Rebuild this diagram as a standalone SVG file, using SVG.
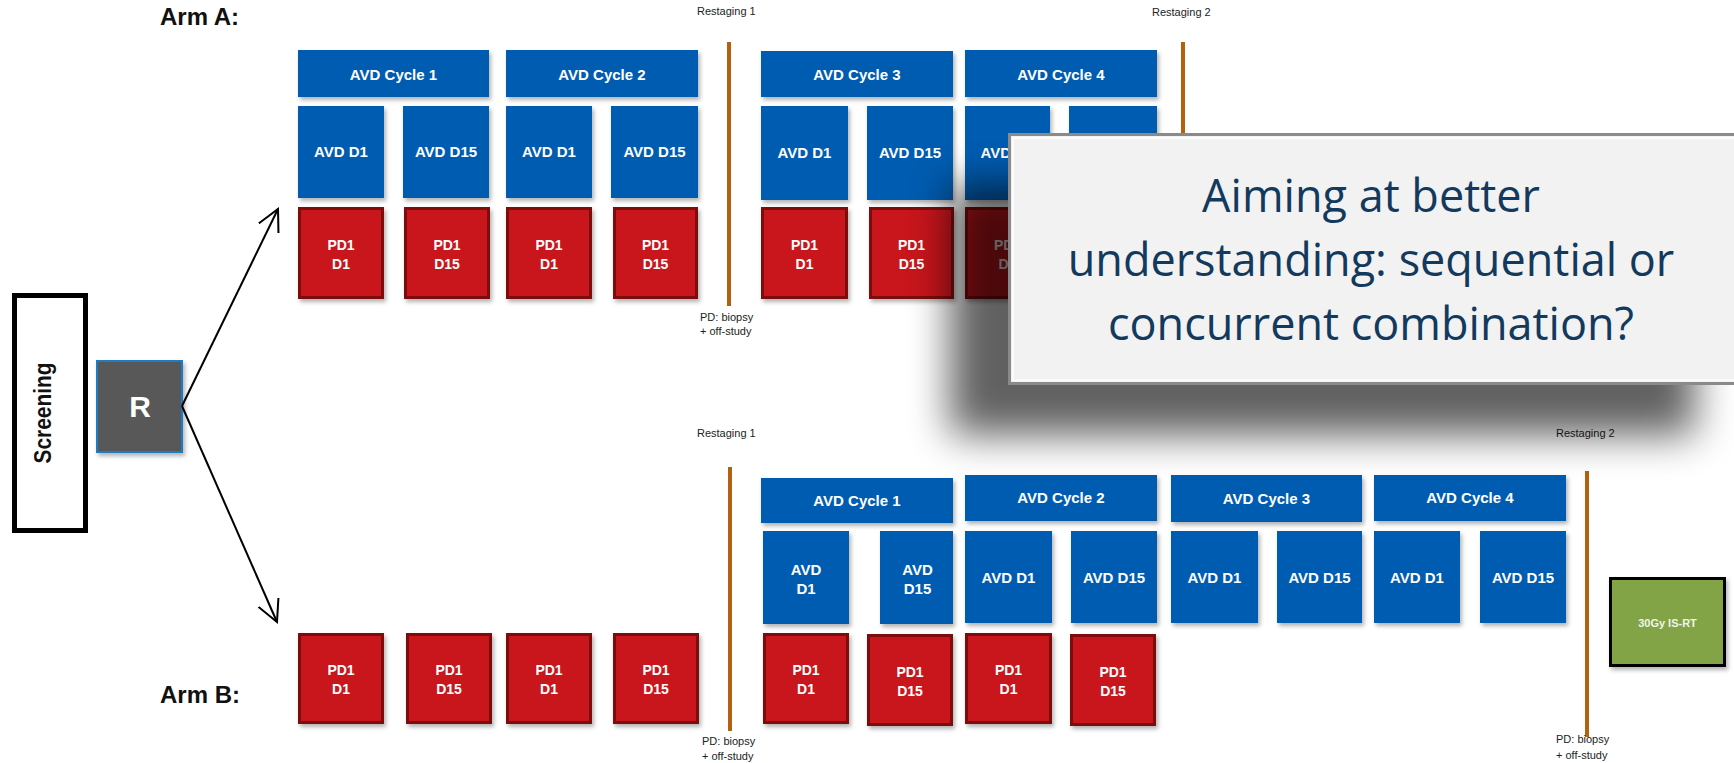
<svg xmlns="http://www.w3.org/2000/svg" width="1734" height="763" viewBox="0 0 1734 763">
<defs>
<style>
.blue{fill:#065cb0;filter:url(#ds)}
.red{fill:#c8181e;stroke:#7d0a0a;stroke-width:3;filter:url(#ds)}
.wt{font-family:"Liberation Sans",Arial,sans-serif;font-weight:bold;fill:#ffffff;text-anchor:middle}
.b15{font-size:15px}
.b14{font-size:14px}
.sm{font-family:"Liberation Sans",Arial,sans-serif;font-size:11px;fill:#222222}
.arm{font-family:"Liberation Sans",Arial,sans-serif;font-size:24px;font-weight:bold;fill:#111111}
.org{stroke:#b5600f;stroke-width:4}
.conn{stroke:#000;stroke-width:2;fill:none}
.call{font-family:"Open Sans","Noto Sans",sans-serif;font-size:45px;fill:#123a5e;text-anchor:middle}
</style>
<filter id="ds" x="-20%" y="-20%" width="140%" height="140%">
<feDropShadow dx="2" dy="3" stdDeviation="2" flood-color="#000" flood-opacity="0.3"/>
</filter>
<filter id="big" x="-20%" y="-40%" width="140%" height="180%">
<feGaussianBlur stdDeviation="20"/>
</filter>
<marker id="arr" viewBox="0 0 24 24" refX="21.5" refY="12" markerWidth="24" markerHeight="24" markerUnits="userSpaceOnUse" orient="auto">
<path d="M0,1 L21.5,12 L0,23" fill="none" stroke="#000" stroke-width="2"/>
</marker>
</defs>
<rect width="1734" height="763" fill="#ffffff"/>

<text class="arm" x="160" y="25">Arm A:</text>
<text class="arm" x="160" y="703">Arm B:</text>

<g id="screening">
<rect x="14.5" y="295.5" width="71" height="235" fill="#ffffff" stroke="#000" stroke-width="5"/>
<text transform="translate(51,413) rotate(-90)" text-anchor="middle" font-family="Liberation Sans,Arial,sans-serif" font-weight="bold" font-size="23" textLength="101" lengthAdjust="spacingAndGlyphs" fill="#111">Screening</text>
</g>
<g id="R">
<rect x="97" y="361" width="85" height="91" fill="#595959" stroke="#1a7dc4" stroke-width="2" filter="url(#ds)"/>
<text class="wt" x="140" y="417" font-size="30">R</text>
</g>

<g id="connectors">
<line class="conn" x1="182" y1="406" x2="278" y2="209" marker-end="url(#arr)"/>
<line class="conn" x1="182" y1="406" x2="277" y2="622" marker-end="url(#arr)"/>
</g>

<!-- Arm A -->
<g id="A-cycle1"><rect class="blue" x="298" y="50" width="191" height="47"/><text class="wt b15" x="393.5" y="80">AVD Cycle 1</text></g>
<g id="A-cycle2"><rect class="blue" x="506" y="50" width="192" height="47"/><text class="wt b15" x="602" y="80">AVD Cycle 2</text></g>
<g id="A-cycle3"><rect class="blue" x="761" y="51" width="192" height="46"/><text class="wt b15" x="857" y="80">AVD Cycle 3</text></g>
<g id="A-cycle4"><rect class="blue" x="965" y="50" width="192" height="47"/><text class="wt b15" x="1061" y="80">AVD Cycle 4</text></g>

<g id="A-avd1"><rect class="blue" x="298" y="106" width="86" height="92"/><text class="wt b15" x="341" y="157">AVD D1</text></g>
<g id="A-avd2"><rect class="blue" x="403" y="106" width="86" height="92"/><text class="wt b15" x="446" y="157">AVD D15</text></g>
<g id="A-avd3"><rect class="blue" x="506" y="106" width="86" height="92"/><text class="wt b15" x="549" y="157">AVD D1</text></g>
<g id="A-avd4"><rect class="blue" x="611" y="106" width="87" height="92"/><text class="wt b15" x="654.5" y="157">AVD D15</text></g>
<g id="A-avd5"><rect class="blue" x="761" y="106" width="87" height="94"/><text class="wt b15" x="804.5" y="158">AVD D1</text></g>
<g id="A-avd6"><rect class="blue" x="867" y="106" width="86" height="94"/><text class="wt b15" x="910" y="158">AVD D15</text></g>
<g id="A-avd7"><rect class="blue" x="965" y="106" width="85" height="94"/><text class="wt b15" x="1007.5" y="158">AVD D1</text></g>
<g id="A-avd8"><rect class="blue" x="1069" y="106" width="88" height="94"/><text class="wt b15" x="1113" y="158">AVD D15</text></g>

<g id="A-pd1"><rect class="red" x="299.5" y="208.5" width="83" height="89"/><text class="wt b14" x="341" y="250">PD1</text><text class="wt b14" x="341" y="269">D1</text></g>
<g id="A-pd2"><rect class="red" x="405.5" y="208.5" width="83" height="89"/><text class="wt b14" x="447" y="250">PD1</text><text class="wt b14" x="447" y="269">D15</text></g>
<g id="A-pd3"><rect class="red" x="507.5" y="208.5" width="83" height="89"/><text class="wt b14" x="549" y="250">PD1</text><text class="wt b14" x="549" y="269">D1</text></g>
<g id="A-pd4"><rect class="red" x="614.5" y="208.5" width="82" height="89"/><text class="wt b14" x="655.5" y="250">PD1</text><text class="wt b14" x="655.5" y="269">D15</text></g>
<g id="A-pd5"><rect class="red" x="762.5" y="208.5" width="84" height="89"/><text class="wt b14" x="804.5" y="250">PD1</text><text class="wt b14" x="804.5" y="269">D1</text></g>
<g id="A-pd6"><rect class="red" x="870.5" y="208.5" width="82" height="89"/><text class="wt b14" x="911.5" y="250">PD1</text><text class="wt b14" x="911.5" y="269">D15</text></g>
<g id="A-pd7"><rect class="red" x="966.5" y="208.5" width="82" height="89"/><text class="wt b14" x="1007.5" y="250">PD1</text><text class="wt b14" x="1007.5" y="269">D1</text></g>

<g id="A-restaging1">
<line class="org" x1="729" y1="42" x2="729" y2="306"/>
<text class="sm" x="697" y="15">Restaging  1</text>
<text class="sm" x="700" y="321">PD: biopsy</text>
<text class="sm" x="700" y="335">+ off-study</text>
</g>
<g id="A-restaging2">
<line class="org" x1="1183" y1="42" x2="1183" y2="300"/>
<text class="sm" x="1152" y="16">Restaging  2</text>
</g>

<!-- Arm B -->
<g id="B-pd1"><rect class="red" x="299.5" y="634.5" width="83" height="88"/><text class="wt b14" x="341" y="675">PD1</text><text class="wt b14" x="341" y="694">D1</text></g>
<g id="B-pd2"><rect class="red" x="407.5" y="634.5" width="83" height="88"/><text class="wt b14" x="449" y="675">PD1</text><text class="wt b14" x="449" y="694">D15</text></g>
<g id="B-pd3"><rect class="red" x="507.5" y="634.5" width="83" height="88"/><text class="wt b14" x="549" y="675">PD1</text><text class="wt b14" x="549" y="694">D1</text></g>
<g id="B-pd4"><rect class="red" x="614.5" y="634.5" width="83" height="88"/><text class="wt b14" x="656" y="675">PD1</text><text class="wt b14" x="656" y="694">D15</text></g>

<g id="B-restaging1">
<line class="org" x1="730" y1="467" x2="730" y2="731"/>
<text class="sm" x="697" y="437">Restaging  1</text>
<text class="sm" x="702" y="745">PD: biopsy</text>
<text class="sm" x="702" y="760">+ off-study</text>
</g>

<g id="B-cycle1"><rect class="blue" x="761" y="478" width="192" height="45"/><text class="wt b15" x="857" y="506">AVD Cycle 1</text></g>
<g id="B-cycle2"><rect class="blue" x="965" y="475" width="192" height="46"/><text class="wt b15" x="1061" y="503">AVD Cycle 2</text></g>
<g id="B-cycle3"><rect class="blue" x="1171" y="475" width="191" height="47"/><text class="wt b15" x="1266.5" y="504">AVD Cycle 3</text></g>
<g id="B-cycle4"><rect class="blue" x="1374" y="475" width="192" height="46"/><text class="wt b15" x="1470" y="503">AVD Cycle 4</text></g>

<g id="B-avd1"><rect class="blue" x="763" y="531" width="86" height="93"/><text class="wt b15" x="806" y="575">AVD</text><text class="wt b15" x="806" y="594">D1</text></g>
<g id="B-avd2"><rect class="blue" x="880" y="531" width="73" height="93"/><text class="wt b15" x="917.5" y="575">AVD</text><text class="wt b15" x="917.5" y="594">D15</text></g>
<g id="B-avd3"><rect class="blue" x="965" y="531" width="87" height="92"/><text class="wt b15" x="1008.5" y="583">AVD D1</text></g>
<g id="B-avd4"><rect class="blue" x="1071" y="531" width="86" height="92"/><text class="wt b15" x="1114" y="583">AVD D15</text></g>
<g id="B-avd5"><rect class="blue" x="1171" y="531" width="87" height="92"/><text class="wt b15" x="1214.5" y="583">AVD D1</text></g>
<g id="B-avd6"><rect class="blue" x="1277" y="531" width="85" height="92"/><text class="wt b15" x="1319.5" y="583">AVD D15</text></g>
<g id="B-avd7"><rect class="blue" x="1374" y="531" width="86" height="92"/><text class="wt b15" x="1417" y="583">AVD D1</text></g>
<g id="B-avd8"><rect class="blue" x="1480" y="531" width="86" height="92"/><text class="wt b15" x="1523" y="583">AVD D15</text></g>

<g id="B-pd5"><rect class="red" x="764.5" y="634.5" width="83" height="88"/><text class="wt b14" x="806" y="675">PD1</text><text class="wt b14" x="806" y="694">D1</text></g>
<g id="B-pd6"><rect class="red" x="868.5" y="635.5" width="83" height="89"/><text class="wt b14" x="910" y="677">PD1</text><text class="wt b14" x="910" y="696">D15</text></g>
<g id="B-pd7"><rect class="red" x="966.5" y="634.5" width="84" height="88"/><text class="wt b14" x="1008.5" y="675">PD1</text><text class="wt b14" x="1008.5" y="694">D1</text></g>
<g id="B-pd8"><rect class="red" x="1071.5" y="635.5" width="83" height="89"/><text class="wt b14" x="1113" y="677">PD1</text><text class="wt b14" x="1113" y="696">D15</text></g>

<g id="B-restaging2">
<line class="org" x1="1587" y1="471" x2="1587" y2="737"/>
<text class="sm" x="1556" y="437">Restaging  2</text>
<text class="sm" x="1556" y="743">PD: biopsy</text>
<text class="sm" x="1556" y="759">+ off-study</text>
</g>

<g id="B-rt">
<rect x="1610.5" y="578.5" width="114" height="87" fill="#82a446" stroke="#000" stroke-width="3" filter="url(#ds)"/>
<text x="1667.5" y="627" font-family="Liberation Sans,Arial,sans-serif" font-size="11" font-weight="bold" fill="#f0f4e8" text-anchor="middle">30Gy  IS-RT</text>
</g>

<!-- callout -->
<g id="callout">
<rect x="950" y="185" width="745" height="250" fill="#000" opacity="0.62" filter="url(#big)"/>
<rect x="1009.5" y="134.5" width="730" height="249" fill="#f2f2f2" stroke="#8a8a8a" stroke-width="3"/>
<rect x="1013" y="138" width="725" height="242" fill="none" stroke="#ffffff" stroke-width="2" opacity="0.7"/>
<text class="call" x="1371" y="212">Aiming at better</text>
<text class="call" x="1371" y="276">understanding: sequential or</text>
<text class="call" x="1371" y="340">concurrent combination?</text>
</g>
</svg>
